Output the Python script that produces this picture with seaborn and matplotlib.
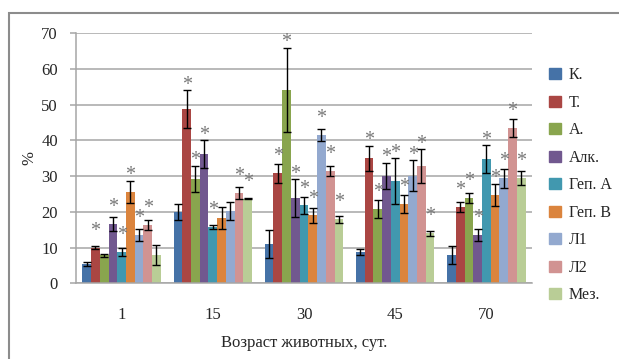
import numpy as np
import pandas as pd
import matplotlib
matplotlib.use("Agg")
import matplotlib.pyplot as plt
import seaborn as sns
from matplotlib.patches import Rectangle

# data
ages = ["1", "15", "30", "45", "70"]
groups = ["К.", "Т.", "А.", "Алк.", "Геп. А", "Геп. В", "Л1", "Л2", "Мез."]

# mean values, one list per age (in group order)
val_1 = [5.4, 10.0, 7.9, 16.6, 8.8, 25.6, 13.5, 16.3, 7.9]
val_15 = [20.0, 48.8, 29.2, 36.2, 15.8, 18.3, 20.3, 25.3, 23.7]
val_30 = [11.0, 30.8, 54.2, 23.8, 21.8, 19.0, 41.5, 31.5, 17.9]
val_45 = [8.7, 35.0, 20.8, 30.1, 28.6, 22.2, 30.1, 32.9, 14.0]
val_70 = [7.9, 21.4, 23.9, 13.5, 34.8, 24.7, 29.4, 43.6, 29.5]

# error (half-length of error bar)
err_1 = [0.5, 0.4, 0.4, 2.0, 1.1, 3.0, 1.6, 1.3, 2.7]
err_15 = [2.3, 5.3, 3.7, 3.8, 0.6, 3.1, 2.5, 1.8, 0.2]
err_30 = [3.8, 2.6, 11.8, 5.3, 2.4, 2.2, 1.7, 1.4, 1.0]
err_45 = [0.8, 3.5, 2.5, 3.7, 6.4, 2.5, 4.3, 4.7, 0.7]
err_70 = [2.5, 1.3, 1.3, 1.6, 3.9, 3.0, 2.7, 2.5, 1.9]

# significance marks (1 = asterisk)
sig_1 = [0, 1, 0, 1, 1, 1, 1, 1, 0]
sig_15 = [0, 1, 1, 1, 1, 0, 0, 1, 1]
sig_30 = [0, 1, 1, 1, 1, 1, 1, 1, 1]
sig_45 = [0, 1, 1, 1, 1, 1, 1, 1, 1]
sig_70 = [0, 1, 1, 1, 1, 1, 1, 1, 1]

colors = ["#4572A7", "#AA4643", "#89A54E", "#71588F", "#4198AF",
          "#DB843D", "#93A9CF", "#D19392", "#B9CD96"]

vals = [val_1, val_15, val_30, val_45, val_70]
errs = [err_1, err_15, err_30, err_45, err_70]
sigs = [sig_1, sig_15, sig_30, sig_45, sig_70]

rows = []
for i, age in enumerate(ages):
    for j, g in enumerate(groups):
        rows.append({"age": age, "group": g, "value": vals[i][j],
                     "err": errs[i][j], "sig": sigs[i][j]})
df = pd.DataFrame(rows)

sns.set_style("white")
plt.rcParams["font.family"] = ["Liberation Serif", "DejaVu Serif"]

fig = plt.figure(figsize=(6.19, 3.59), dpi=100)
ax = fig.add_axes([76 / 619, 1 - 283.3 / 359, 456 / 619, 250 / 359])

sns.barplot(data=df, x="age", y="value", hue="group", order=ages,
            hue_order=groups, palette=colors, errorbar=None, width=0.86,
            saturation=1, ax=ax, legend=False, linewidth=0)

# error bars and asterisks, taken from the drawn bars
bar_containers = list(ax.containers)
for j, cont in enumerate(bar_containers):
    sub = df[df["group"] == groups[j]].set_index("age").loc[ages]
    for bar, (_, r) in zip(cont.patches, sub.iterrows()):
        xc = bar.get_x() + bar.get_width() / 2
        ax.errorbar(xc, r["value"], yerr=r["err"], fmt="none", ecolor="black",
                    elinewidth=1, capsize=2.8, capthick=1, zorder=4)
        if r["sig"]:
            ys = max(r["value"] + 5.2, r["value"] + r["err"] + 2.0)
            ax.text(xc, ys - 0.6, "*", ha="center", va="center", fontsize=14.5,
                    color="#777777", zorder=5)

ax.set_ylim(0, 70)
ax.set_xlim(-0.5, 4.5)
ax.set_yticks(range(0, 71, 10))
ax.yaxis.grid(True, color="#A6A6A6", linewidth=1.1)
ax.set_axisbelow(True)
for s in ["top", "right"]:
    ax.spines[s].set_visible(False)
ax.spines["left"].set_color("#A6A6A6")
ax.spines["bottom"].set_color("#A6A6A6")
ax.spines["left"].set_linewidth(1.1)
ax.spines["bottom"].set_linewidth(1.1)

ax.set_xticks(np.arange(-0.5, 4.6, 1), minor=True)
ax.tick_params(axis="x", which="major", length=0, pad=17, labelsize=12)
ax.tick_params(axis="x", which="minor", length=5, color="#A6A6A6", width=1.1)
ax.tick_params(axis="y", length=4, color="#A6A6A6", width=1.1, pad=9,
               labelsize=12, left=True)

ax.set_xlabel("Возраст животных, сут.", fontsize=12, labelpad=9)
ax.set_ylabel("%", fontsize=12, labelpad=3)

handles = [Rectangle((0, 0), 1, 1, color=c) for c in colors]
fig.legend(handles, groups, loc="upper left", bbox_to_anchor=(543 / 619, 1 - 61 / 359),
           frameon=False, fontsize=11.5, handlelength=0.7, handleheight=0.7,
           handletextpad=0.5, labelspacing=0.72, borderaxespad=0)

# outer chart border
fig.patches.append(Rectangle((9 / 619, -0.05), 1.1, 1 - 13 / 359 + 0.05,
                             transform=fig.transFigure, fill=False,
                             edgecolor="#8C8C8C", linewidth=1.5))

fig.savefig("out.png", dpi=100)
plt.close(fig)
